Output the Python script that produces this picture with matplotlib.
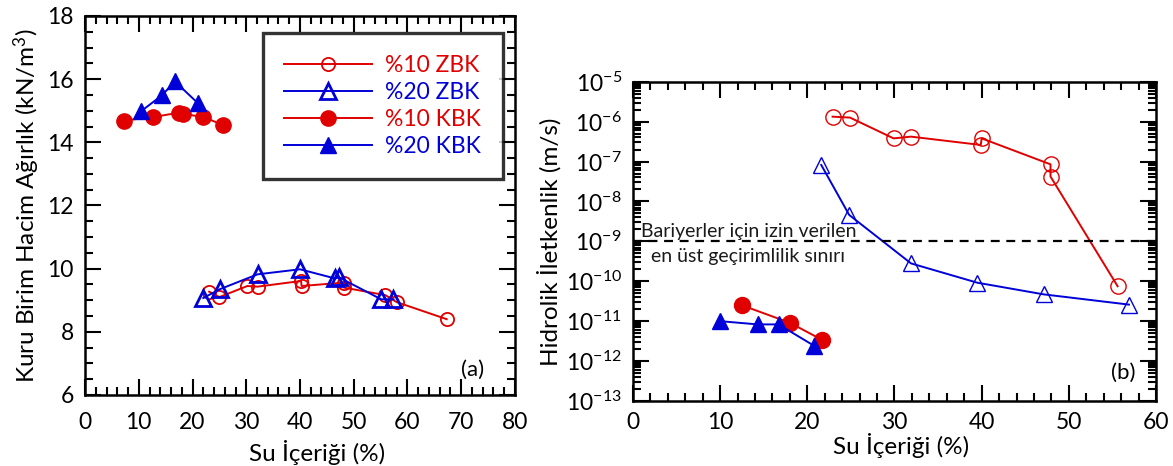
import math

import matplotlib
matplotlib.use("Agg")
import matplotlib.pyplot as plt
from matplotlib.ticker import MultipleLocator, LogLocator, FuncFormatter, NullFormatter

plt.rcParams['font.family'] = ['Lato', 'DejaVu Sans']
plt.rcParams['mathtext.fontset'] = 'custom'
plt.rcParams['mathtext.rm'] = 'Lato'
plt.rcParams['mathtext.default'] = 'regular'

RED = '#e00000'
BLUE = '#0000d8'

# (a) dry unit weight vs water content
zbk10_w = [23.1, 25.0, 30.2, 32.1, 40.2, 40.3, 48.2, 48.2, 55.9, 58.0, 67.3]
zbk10_gd = [9.27, 9.10, 9.45, 9.43, 9.61, 9.45, 9.56, 9.40, 9.16, 8.94, 8.40]
zbk20_w = [22.0, 25.1, 32.1, 40.0, 46.5, 47.3, 55.1, 57.4]
zbk20_gd = [9.07, 9.35, 9.82, 9.98, 9.69, 9.72, 9.03, 9.03]
kbk10_w = [7.3, 12.7, 17.5, 18.3, 22.0, 25.7]
kbk10_gd = [14.69, 14.80, 14.94, 14.90, 14.80, 14.55]
kbk20_w = [10.4, 14.4, 16.7, 21.0]
kbk20_gd = [14.98, 15.50, 15.93, 15.24]

# (b) hydraulic conductivity vs water content
k_zbk10_w = [22.9, 24.9, 29.9, 31.9, 39.9, 40.0, 47.9, 47.9, 55.6]
k_zbk10 = [1.33e-6, 1.26e-6, 3.8e-7, 4.2e-7, 2.6e-7, 3.8e-7, 8.5e-8, 4.2e-8, 7.5e-11]
k_zbk20_w = [21.6, 24.8, 31.9, 39.5, 47.1, 56.9]
k_zbk20 = [8.2e-8, 4.6e-9, 2.8e-10, 9.2e-11, 4.7e-11, 2.6e-11]
k_kbk10_w = [12.5, 18.0, 21.7]
k_kbk10 = [2.5e-11, 9.1e-12, 3.4e-12]
k_kbk20_w = [10.0, 14.3, 16.7, 20.8]
k_kbk20 = [1.0e-11, 8.3e-12, 8.3e-12, 2.4e-12]
k_limit = 1e-9

labels = ['%10 ZBK', '%20 ZBK', '%10 KBK', '%20 KBK']


def style_axes(ax, xpad):
    """
    Inward ticks on all four sides, thick frame
    """
    for sp in ax.spines.values():
        sp.set_linewidth(1.8)
    ax.tick_params(which='both', direction='in', top=True, right=True, width=1.5)
    ax.tick_params(which='major', length=11.5, labelsize=16.5, pad=8)
    ax.tick_params(axis='x', which='major', pad=xpad)
    ax.tick_params(which='minor', length=6)


def plot_left(ax):
    ax.plot(zbk10_w, zbk10_gd, '-o', color=RED, mfc='none', mec=RED, ms=9.5, mew=1.3, lw=1.4,
            label=labels[0])
    ax.plot(zbk20_w, zbk20_gd, '-^', color=BLUE, mfc='none', mec=BLUE, ms=11.5, mew=2.0, lw=1.4,
            label=labels[1])
    ax.plot(kbk10_w, kbk10_gd, '-o', color=RED, mfc=RED, mec=RED, ms=11, lw=1.4, label=labels[2])
    ax.plot(kbk20_w, kbk20_gd, '-^', color=BLUE, mfc=BLUE, mec=BLUE, ms=12, lw=1.4, label=labels[3])
    ax.set_xlim(0, 80)
    ax.set_ylim(6, 18)
    ax.xaxis.set_major_locator(MultipleLocator(10))
    ax.xaxis.set_minor_locator(MultipleLocator(2))
    ax.yaxis.set_major_locator(MultipleLocator(2))
    ax.yaxis.set_minor_locator(MultipleLocator(0.5))
    style_axes(ax, 12)
    ax.set_xlabel('Su İçeriği (%)', fontsize=17.5)
    ax.set_ylabel('Kuru Birim Hacim Ağırlık (kN/m$^{3}$)', fontsize=17.5)
    ax.xaxis.set_label_coords(0.54, -0.118)
    ax.yaxis.set_label_coords(-0.10, 0.5)
    ax.text(72.2, 6.8, '(a)', fontsize=16, ha='center', va='center')
    leg = ax.legend(loc='upper right', bbox_to_anchor=(0.972, 0.955), borderaxespad=0,
                    fontsize=16.5, handlelength=3.8, handletextpad=0.6, labelspacing=0.27,
                    borderpad=0.95, fancybox=False, frameon=True)
    leg.get_frame().set_edgecolor('black')
    leg.get_frame().set_linewidth(2.4)
    for txt, c in zip(leg.get_texts(), [RED, BLUE, RED, BLUE]):
        txt.set_color(c)


def plot_right(ax):
    ax.plot(k_zbk10_w, k_zbk10, '-o', color=RED, mfc='none', mec=RED, ms=11, mew=1.0, lw=1.4)
    ax.plot(k_zbk20_w, k_zbk20, '-^', color=BLUE, mfc='none', mec=BLUE, ms=12, mew=1.0, lw=1.4)
    ax.plot(k_kbk10_w, k_kbk10, '-o', color=RED, mfc=RED, mec=RED, ms=11.5, lw=1.4)
    ax.plot(k_kbk20_w, k_kbk20, '-^', color=BLUE, mfc=BLUE, mec=BLUE, ms=12, lw=1.4)
    ax.axhline(k_limit, color='black', ls=(0, (4, 3)), lw=1.6)
    ax.set_yscale('log')
    ax.set_xlim(0, 60)
    ax.set_ylim(1e-13, 1e-5)
    ax.xaxis.set_major_locator(MultipleLocator(10))
    ax.xaxis.set_minor_locator(MultipleLocator(2))
    ax.yaxis.set_major_locator(LogLocator(base=10, numticks=20))
    ax.yaxis.set_minor_locator(LogLocator(base=10, subs=range(2, 10), numticks=20))
    ax.yaxis.set_minor_formatter(NullFormatter())
    ax.yaxis.set_major_formatter(FuncFormatter(lambda v, p: r'$10^{%d}$' % round(math.log10(v))))
    style_axes(ax, 8)
    ax.set_xlabel('Su İçeriği (%)', fontsize=17.5)
    ax.set_ylabel('Hidrolik İletkenlik (m/s)', fontsize=17.5)
    ax.xaxis.set_label_coords(0.512, -0.1)
    ax.yaxis.set_label_coords(-0.136, 0.5)
    ax.text(0.9, 10 ** -8.75, 'Bariyerler için izin verilen', fontsize=14, color='#1a1a1a',
            ha='left', va='center')
    ax.text(2.1, 10 ** -9.375, 'en üst geçirimlilik sınırı', fontsize=14, color='#1a1a1a',
            ha='left', va='center')
    ax.text(56.2, 10 ** -12.29, '(b)', fontsize=16, ha='center', va='center')


fig = plt.figure(figsize=(11.73, 4.66), dpi=100)
ax1 = fig.add_axes([0.0725, 0.1524, 0.439 - 0.0725, 0.9657 - 0.1524])
ax2 = fig.add_axes([0.5396, 0.1395, 0.9855 - 0.5396, 0.8247 - 0.1395])
plot_left(ax1)
plot_right(ax2)
fig.savefig('out.png', dpi=100)
